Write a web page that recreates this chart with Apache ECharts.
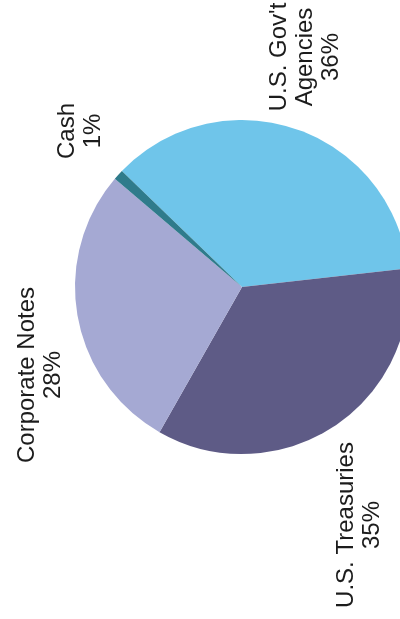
<!DOCTYPE html>
<html>
<head>
<meta charset="utf-8">
<script src="https://cdn.jsdelivr.net/npm/echarts@6/dist/echarts.min.js"></script>
<style>
  html, body { margin: 0; padding: 0; background: #fff; }
  #chart { width: 400px; height: 619px; }
</style>
</head>
<body>
<div id="chart"></div>
<script>
// portfolio mix
const categories = ["U.S. Gov't\nAgencies", 'U.S. Treasuries', 'Corporate Notes', 'Cash']
const shares = [36, 35, 28, 1]
const colors = ['#6fc5ea', '#5e5b86', '#a5a9d3', '#2f7b8b']

// where each rotated label block sits (centre of the block)
const labelSpots = [
  [305, 57],
  [359, 525],
  [40, 375],
  [80, 131],
]

const chart = echarts.init(document.getElementById('chart'), null, { renderer: 'canvas' })

chart.setOption({
  animation: false,
  backgroundColor: '#fff',
  textStyle: { fontFamily: '"Liberation Sans", Arial, sans-serif' },
  series: [
    {
      type: 'pie',
      center: [242, 287],
      radius: 167,
      startAngle: 136,
      clockwise: true,
      avoidLabelOverlap: false,
      silent: true,
      data: categories.map((name, i) => ({
        name: name,
        value: shares[i],
        itemStyle: { color: colors[i] },
      })),
      itemStyle: { borderWidth: 0 },
      label: {
        show: true,
        position: 'outside',
        formatter: '{b}\n{c}%',
        color: '#1c1c1c',
        fontSize: 24,
        lineHeight: 26,
        align: 'center',
      },
      labelLine: { show: false },
      labelLayout: (params) => {
        const p = labelSpots[params.dataIndex]
        return { x: p[0], y: p[1], rotate: 90, align: 'center', verticalAlign: 'middle' }
      },
    },
  ],
})
</script>
</body>
</html>
